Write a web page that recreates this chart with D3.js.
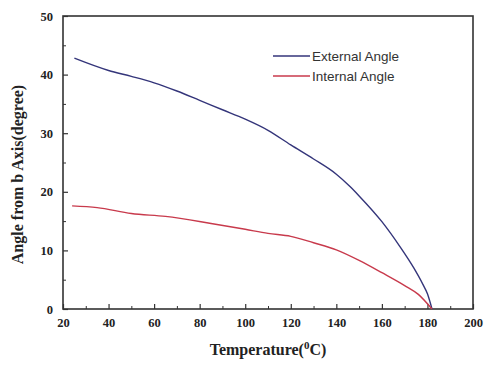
<!DOCTYPE html>
<html>
<head>
<meta charset="utf-8">
<script src="https://cdn.jsdelivr.net/npm/d3@7"></script>
<style>
  body { margin: 0; background: #fff; }
  .tick text { font-family: "Liberation Serif", "Times New Roman", serif; font-weight: bold; font-size: 12.5px; fill: #222; }
  .axis path, .axis line { stroke: #333; }
</style>
</head>
<body>
<svg id="chart"></svg>
<script>
// temperature (°C) and angle (degree)
var extTemp = [25, 40, 50, 60, 70, 80, 90, 100, 110, 120, 130, 140, 146, 150, 160, 168, 174, 178, 180, 182];
var extAngle = [42.8, 40.7, 39.7, 38.6, 37.2, 35.6, 34.0, 32.4, 30.5, 28.0, 25.6, 23.0, 20.9, 19.3, 14.9, 10.6, 7.0, 4.2, 2.6, 0];

var intTemp = [24, 35, 50, 65, 85, 100, 110, 120, 130, 140, 150, 160, 170, 176, 182];
var intAngle = [17.6, 17.3, 16.3, 15.8, 14.6, 13.6, 12.9, 12.4, 11.3, 10.1, 8.3, 6.2, 4.0, 2.5, 0];

var seriesNames = ["External Angle", "Internal Angle"];
var seriesColors = ["#34357a", "#c83a4c"];

var xTicks = [20, 40, 60, 80, 100, 120, 140, 160, 180, 200];
var yTicks = [0, 10, 20, 30, 40, 50];

var width = 488, height = 365;
var margin = { top: 16, right: 15, bottom: 56, left: 63 };
var w = width - margin.left - margin.right;
var h = height - margin.top - margin.bottom;

var svg = d3.select("#chart")
  .attr("width", width)
  .attr("height", height);

var g = svg.append("g")
  .attr("transform", "translate(" + margin.left + "," + margin.top + ")");

var x = d3.scaleLinear().domain([20, 200]).range([0, w]);
var y = d3.scaleLinear().domain([0, 50]).range([h, 0]);

// minor ticks (inside)
g.append("g")
  .attr("class", "axis")
  .attr("transform", "translate(0," + h + ")")
  .call(d3.axisBottom(x).tickValues(d3.range(30, 200, 20)).tickSize(-3).tickFormat(""))
  .call(s => s.select(".domain").remove());
g.append("g")
  .attr("class", "axis")
  .call(d3.axisLeft(y).tickValues(d3.range(5, 50, 10)).tickSize(-3).tickFormat(""))
  .call(s => s.select(".domain").remove());

// major ticks (inside) with labels
var xAxis = g.append("g")
  .attr("class", "axis")
  .attr("transform", "translate(0," + h + ")")
  .call(d3.axisBottom(x).tickValues(xTicks).tickSize(-5).tickPadding(9).tickFormat(d3.format("d")));
xAxis.select(".domain").remove();
xAxis.selectAll("line").attr("stroke-width", 1.2);

var yAxis = g.append("g")
  .attr("class", "axis")
  .call(d3.axisLeft(y).tickValues(yTicks).tickSize(-5).tickPadding(10).tickFormat(d3.format("d")));
yAxis.select(".domain").remove();
yAxis.selectAll("line").attr("stroke-width", 1.2);

// frame
g.append("rect")
  .attr("x", 0).attr("y", 0)
  .attr("width", w).attr("height", h)
  .attr("fill", "none")
  .attr("stroke", "#333")
  .attr("stroke-width", 1.6);

var line = d3.line()
  .x(d => x(d[0]))
  .y(d => y(d[1]))
  .curve(d3.curveMonotoneX);

var series = [
  d3.zip(extTemp, extAngle),
  d3.zip(intTemp, intAngle)
];

series.forEach(function (pts, i) {
  g.append("path")
    .datum(pts)
    .attr("fill", "none")
    .attr("stroke", seriesColors[i])
    .attr("stroke-width", 1.4)
    .attr("d", line);
});

// legend
var legend = g.append("g")
  .attr("transform", "translate(" + (273 - margin.left) + "," + (56 - margin.top) + ")");
seriesNames.forEach(function (name, i) {
  legend.append("line")
    .attr("x1", 0).attr("x2", 37)
    .attr("y1", i * 20).attr("y2", i * 20)
    .attr("stroke", seriesColors[i])
    .attr("stroke-width", 1.5);
  legend.append("text")
    .attr("x", 39)
    .attr("y", i * 20)
    .attr("dy", "0.36em")
    .attr("font-family", "Liberation Sans, Arial, sans-serif")
    .attr("font-size", 13.5)
    .attr("fill", "#333")
    .text(name);
});

// axis titles
var xTitle = svg.append("text")
  .attr("x", margin.left + w / 2)
  .attr("y", 355)
  .attr("text-anchor", "middle")
  .attr("font-family", "Liberation Serif, Times New Roman, serif")
  .attr("font-weight", "bold")
  .attr("font-size", 16)
  .attr("fill", "#222");
xTitle.append("tspan").text("Temperature(");
xTitle.append("tspan").attr("font-size", 11).attr("dy", -6).text("0");
xTitle.append("tspan").attr("dy", 6).text("C)");

svg.append("text")
  .attr("transform", "translate(23," + (margin.top + h / 2 + 12) + ") rotate(-90)")
  .attr("text-anchor", "middle")
  .attr("font-family", "Liberation Serif, Times New Roman, serif")
  .attr("font-weight", "bold")
  .attr("font-size", 16)
  .attr("fill", "#222")
  .text("Angle from b Axis(degree)");
</script>
</body>
</html>
